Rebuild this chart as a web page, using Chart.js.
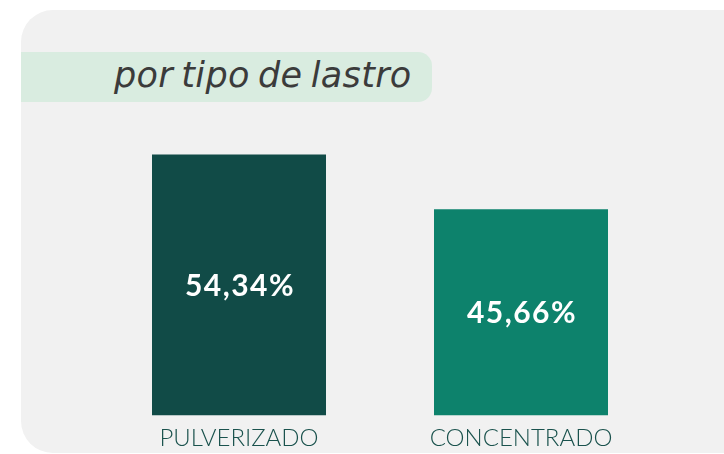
<!DOCTYPE html>
<html>
<head>
<meta charset="utf-8">
<script src="https://cdn.jsdelivr.net/npm/chart.js@4"></script>
<style>
  html, body { margin: 0; padding: 0; background: #ffffff; }
  #wrap { position: relative; width: 724px; height: 454px; overflow: hidden; }
  #panel { position: absolute; left: 21px; top: 10px; width: 740px; height: 443px;
           background: #f1f1f1; border-radius: 32px; }
  #pill { position: absolute; left: 21px; top: 52px; width: 411px; height: 50px;
          background: #d9ece0; border-radius: 0 14px 14px 0; }
  #pill span { position: absolute; left: 93px; top: 3px; line-height: 40px;
               font-family: "DejaVu Sans", sans-serif; font-style: italic; font-weight: 400;
               font-size: 35px; color: #3b3b3b; letter-spacing: 0.3px; word-spacing: -3px;
               white-space: nowrap; }
  #chart { position: absolute; left: 0; top: 0; }
</style>
</head>
<body>
<div id="wrap">
  <div id="panel"></div>
  <div id="pill"><span>por tipo de lastro</span></div>
  <canvas id="chart" width="724" height="468"></canvas>
</div>
<script>
// Data
var categories = ['PULVERIZADO', 'CONCENTRADO'];
var shares = [54.34, 45.66];
var barColors = ['#114b47', '#0d826c'];

// Value labels drawn inside each bar
var barValueLabels = {
    id: 'barValueLabels',
    afterDatasetsDraw: function(chart) {
        var ctx = chart.ctx;
        var meta = chart.getDatasetMeta(0);
        var bottom = chart.chartArea.bottom;
        ctx.save();
        ctx.fillStyle = '#ffffff';
        ctx.font = 'bold 30px Lato, sans-serif';
        ctx.letterSpacing = '1.5px';
        ctx.textAlign = 'center';
        ctx.textBaseline = 'middle';
        for (var i = 0; i < meta.data.length; i++) {
            var bar = meta.data[i];
            var label = shares[i].toFixed(2).replace('.', ',') + '%';
            ctx.fillText(label, bar.x + 1, (bar.y + bottom) / 2 + 1);
        }
        ctx.restore();
    }
};

var ctx = document.getElementById('chart').getContext('2d');
new Chart(ctx, {
    type: 'bar',
    data: {
        labels: categories,
        datasets: [{
            data: shares,
            backgroundColor: barColors,
            borderWidth: 0,
            categoryPercentage: 1,
            barPercentage: 0.617
        }]
    },
    options: {
        responsive: false,
        animation: false,
        layout: { padding: { left: 98, right: 62, top: 119, bottom: 6 } },
        plugins: { legend: { display: false }, tooltip: { enabled: false } },
        scales: {
            x: {
                grid: { display: false, drawTicks: false },
                border: { display: false },
                ticks: {
                    padding: 9,
                    color: '#1a524d',
                    font: { family: 'Lato, sans-serif', size: 24, weight: '300' }
                }
            },
            y: {
                display: false,
                min: 12.88,
                max: 60
            }
        }
    },
    plugins: [barValueLabels]
});
</script>
</body>
</html>
